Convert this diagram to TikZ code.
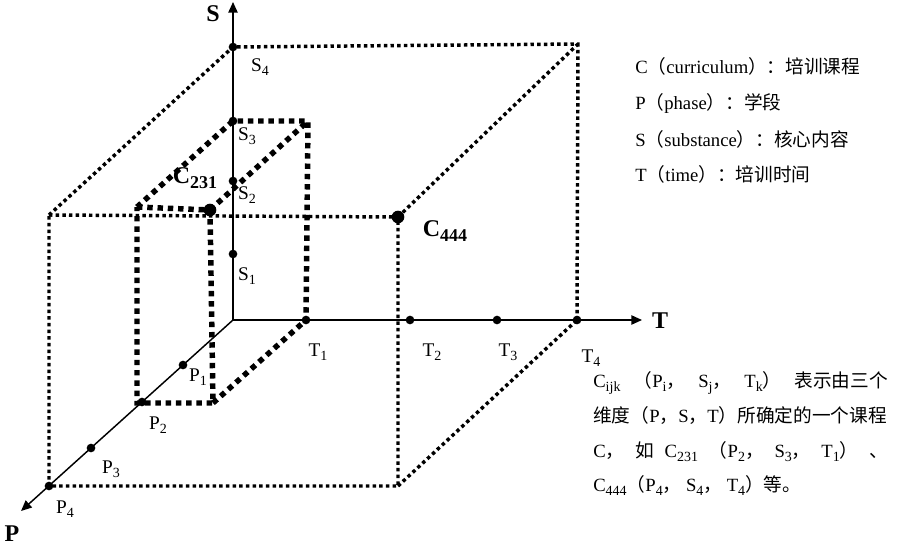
\documentclass[tikz,border=0pt]{standalone}
\usepackage{fontspec}
\setmainfont{Liberation Serif}
\newfontfamily\cjk{Noto Sans CJK SC}
\usetikzlibrary{arrows.meta}
\newcommand\lsb[1]{\raisebox{-0.22em}{\fontsize{10.5}{12}\selectfont #1}}
\newcommand\bsb[1]{\raisebox{-0.22em}{\fontsize{13.5}{15}\selectfont\bfseries #1}}
\begin{document}
\begin{tikzpicture}[x=0.75pt,y=-0.75pt,
 axis/.style={line width=1.1pt,-{Triangle[length=8pt,width=7pt]}},
 bigbox/.style={line width=2.6pt,dash pattern=on 2.6pt off 2.4pt},
 smallbox/.style={line width=4.1pt,dash pattern=on 4.1pt off 3.6pt},
 dotpt/.style={circle,fill,inner sep=0pt,minimum size=6.5pt},
 bigdotpt/.style={circle,fill,inner sep=0pt,minimum size=9.5pt},
 lab/.style={font=\fontsize{14.5}{16}\selectfont,inner sep=0pt},
 blab/.style={font=\fontsize{18}{20}\selectfont\bfseries,inner sep=0pt},
 txt/.style={font=\fontsize{14}{16}\selectfont,inner sep=0pt,anchor=base west}]
\useasboundingbox (0,0) rectangle (903,546);
% axes points
\coordinate (O) at (233,320);
\coordinate (S1) at (233,254);
\coordinate (S2) at (233,181);
\coordinate (S3) at (233,121);
\coordinate (S4) at (233,47);
\coordinate (Send) at (233,2);
\coordinate (T1) at (306,320);
\coordinate (T2) at (410,320);
\coordinate (T3) at (497,320);
\coordinate (T4) at (577,320);
\coordinate (Tend) at (642,320);
\coordinate (P1) at (183,365);
\coordinate (P2) at (142,402);
\coordinate (P3) at (91,448);
\coordinate (P4) at (49,486);
\coordinate (Pend) at (21,511);
% big box corners
\coordinate (FTL) at (49,215);
\coordinate (C444) at (398,217);
\coordinate (FBR) at (398,486);
\coordinate (BTR) at (578,44);
% small box corners
\coordinate (A) at (137,207);
\coordinate (C231) at (210,210);
\coordinate (B) at (213,403);
\coordinate (SBL) at (137,403);
\coordinate (Q) at (308,121);
% big box
\draw[bigbox] (FTL) -- (C444) -- (FBR) -- (P4) -- cycle;
\draw[bigbox] (FTL) -- (S4) -- (BTR) -- (T4);
\draw[bigbox] (C444) -- (BTR);
\draw[bigbox] (FBR) -- (T4);
% small box
\draw[smallbox] (A) -- (C231) -- (B) -- (SBL) -- cycle;
\draw[smallbox] (A) -- (S3) -- (Q) -- (T1);
\draw[smallbox] (C231) -- (Q);
\draw[smallbox] (B) -- (T1);
% axes
\draw[axis] (O) -- (Send);
\draw[axis] (O) -- (Tend);
\draw[axis] (O) -- (Pend);
% dots
\foreach \p in {S1,S2,S3,S4,T1,T2,T3,T4,P1,P2,P3,P4}{\node[dotpt] (d\p) at (\p) {};}
\node[bigdotpt] (dC231) at (C231) {};
\node[bigdotpt] (dC444) at (C444) {};
% axis labels
\node[blab] (lS) at (213,14) {S};
\node[blab] (lT) at (660,321) {T};
\node[blab] (lP) at (12,534) {P};
\node[blab] (lC231) at (195,178) {C\bsb{231}};
\node[blab] (lC444) at (445,231) {C\bsb{444}};
\node[lab] (lS1) at (247,276) {S\lsb{1}};
\node[lab] (lS2) at (247,195) {S\lsb{2}};
\node[lab] (lS3) at (247,136) {S\lsb{3}};
\node[lab] (lS4) at (260,67) {S\lsb{4}};
\node[lab] (lT1) at (318,352) {T\lsb{1}};
\node[lab] (lT2) at (432,352) {T\lsb{2}};
\node[lab] (lT3) at (508,352) {T\lsb{3}};
\node[lab] (lT4) at (591,358) {T\lsb{4}};
\node[lab] (lP1) at (198,377) {P\lsb{1}};
\node[lab] (lP2) at (158,425) {P\lsb{2}};
\node[lab] (lP3) at (111,469) {P\lsb{3}};
\node[lab] (lP4) at (65,509) {P\lsb{4}};
% legend
\node[txt] (g1) at (635,73) {C{\cjk （}curriculum{\cjk ）：培训课程}};
\node[txt] (g2) at (635,109) {P{\cjk （}phase{\cjk ）：学段}};
\node[txt] (g3) at (635,146) {S{\cjk （}substance{\cjk ）：核心内容}};
\node[txt] (g4) at (635,181) {T{\cjk （}time{\cjk ）：培训时间}};
% explanation
\node[txt] (e1) at (593,387) {\makebox[221pt][s]{C\lsb{ijk} {\cjk （}P\lsb{i}{\cjk ，} S\lsb{j}{\cjk ，} T\lsb{k}{\cjk ）} {\cjk 表示由三个}}};
\node[txt] (e2) at (593,422) {{\cjk 维度（}P{\cjk ，}S{\cjk ，}T{\cjk ）所确定的一个课程}};
\node[txt] (e3) at (593,457) {\makebox[221pt][s]{C{\cjk ，} {\cjk 如} C\lsb{231} {\cjk （}P\lsb{2}{\cjk ，} S\lsb{3}{\cjk ，} T\lsb{1}{\cjk ）} {\cjk 、}}};
\node[txt] (e4) at (593,491) {C\lsb{444}{\cjk （}P\lsb{4}{\cjk ，} S\lsb{4}{\cjk ，} T\lsb{4}{\cjk ）等。}};
\end{tikzpicture}
\end{document}
